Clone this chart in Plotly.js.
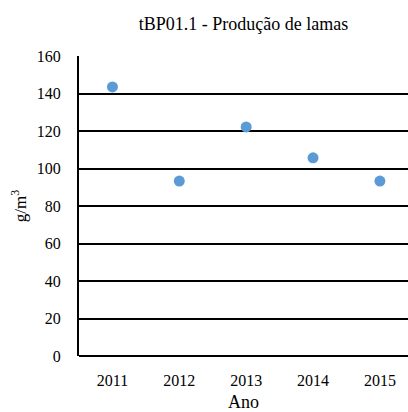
<!DOCTYPE html>
<html>
<head>
<meta charset="utf-8">
<script src="https://cdn.plot.ly/plotly-3.0.1.min.js"></script>
<style>
  html, body { margin: 0; padding: 0; background: #fff; }
  #grafico { width: 408px; height: 412px; }
</style>
</head>
<body>
<div id="grafico"></div>
<script>
// dados
const anos = ["2011", "2012", "2013", "2014", "2015"];
const lamas = [143.5, 93.3, 122.2, 105.7, 93.3];

const fonte = "Liberation Serif";

Plotly.newPlot(
  "grafico",
  [
    {
      x: anos,
      y: lamas,
      type: "scatter",
      mode: "markers",
      marker: { color: "#5b9bd5", size: 11 },
      hoverinfo: "x+y",
    },
  ],
  {
    width: 408,
    height: 412,
    margin: { l: 79, r: 0, t: 56, b: 56 },
    paper_bgcolor: "#fff",
    plot_bgcolor: "#fff",
    showlegend: false,
    font: { family: fonte, size: 16, color: "#000" },
    title: {
      text: "tBP01.1 - Produção de lamas",
      font: { family: fonte, size: 18, color: "#000" },
      x: 0.5,
      xref: "paper",
      y: 0.942,
      yref: "container",
      yanchor: "middle",
    },
    xaxis: {
      type: "category",
      range: [-0.5, 4.42],
      showgrid: false,
      zeroline: false,
      showline: false,
      ticks: "outside",
      ticklen: 10,
      tickcolor: "rgba(0,0,0,0)",
      tickfont: { family: fonte, size: 16, color: "#000" },
      title: { text: "Ano", font: { family: fonte, size: 18, color: "#000" }, standoff: 9 },
    },
    yaxis: {
      range: [0, 160],
      dtick: 20,
      showgrid: true,
      gridcolor: "#000",
      gridwidth: 1.8,
      zeroline: true,
      zerolinecolor: "#000",
      zerolinewidth: 2,
      showline: true,
      linecolor: "#000",
      linewidth: 2,
      ticks: "outside",
      ticklen: 13,
      tickcolor: "rgba(0,0,0,0)",
      tickfont: { family: fonte, size: 16, color: "#000" },
      title: { text: "g/m<sup>3</sup>", font: { family: fonte, size: 17, color: "#000" }, standoff: 6 },
    },
  },
  { displayModeBar: false, responsive: false },
);
</script>
</body>
</html>
